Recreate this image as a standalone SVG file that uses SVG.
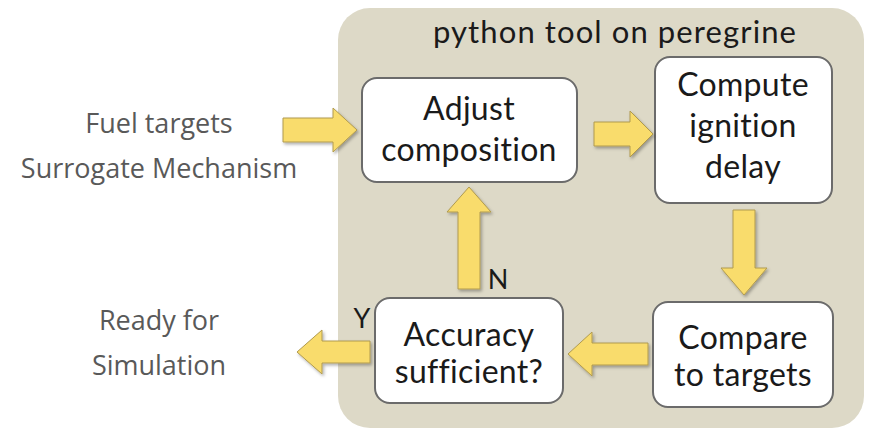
<svg xmlns="http://www.w3.org/2000/svg" width="893" height="428" viewBox="0 0 893 428">
<defs>
<filter id="sh" x="-20%" y="-20%" width="150%" height="150%">
<feDropShadow dx="1.5" dy="2" stdDeviation="1.5" flood-color="#000" flood-opacity="0.3"/>
</filter>
<style>
text{font-variant-ligatures:none}
.box{fill:#fff;stroke:#6b6b6b;stroke-width:2}
.arr{fill:#f9dc6c;stroke:#b09a4e;stroke-width:1;filter:url(#sh)}
.nt{font-family:Lato,"Open Sans",sans-serif;font-size:32px;letter-spacing:0.3px;fill:#1a1a1a;text-anchor:middle}
.lt{font-family:"Open Sans","Liberation Sans",sans-serif;font-size:27px;fill:#595959;text-anchor:middle}
.yn{font-family:Lato,"Open Sans",sans-serif;font-size:27px;fill:#1a1a1a;text-anchor:middle}
</style>
</defs>
<rect x="338" y="8" width="526" height="420" rx="32" fill="#ddd9c7"/>
<text x="615" y="43" font-family="Lato,'Open Sans',sans-serif" font-size="31" letter-spacing="1.1" fill="#1a1a1a" text-anchor="middle">python tool on peregrine</text>
<g id="label-in">
<text class="lt" x="159" y="133">Fuel targets</text>
<text class="lt" x="159" y="178">Surrogate Mechanism</text>
</g>
<g id="label-out">
<text class="lt" x="159" y="330">Ready for</text>
<text class="lt" x="159" y="375">Simulation</text>
</g>
<g id="adjust">
<rect class="box" x="362" y="78" width="215" height="104" rx="15"/>
<text class="nt" x="469" y="120">Adjust</text>
<text class="nt" x="469" y="161">composition</text>
</g>
<g id="compute">
<rect class="box" x="655" y="57" width="177" height="146" rx="15"/>
<text class="nt" x="743" y="96">Compute</text>
<text class="nt" x="743" y="137">ignition</text>
<text class="nt" x="743" y="178">delay</text>
</g>
<g id="compare">
<rect class="box" x="653" y="302" width="180" height="105" rx="15"/>
<text class="nt" x="743" y="349">Compare</text>
<text class="nt" x="743" y="386">to targets</text>
</g>
<g id="accuracy">
<rect class="box" x="375" y="298" width="188" height="105" rx="15"/>
<text class="nt" x="469" y="346">Accuracy</text>
<text class="nt" x="469" y="383">sufficient?</text>
</g>
<g id="connectors">
<path class="arr" d="M283,118 H333 V108 L357,130 L333,152 V142 H283 Z"/>
<path class="arr" d="M594,122 H630 V111 L653,134 L630,157 V146 H594 Z"/>
<path class="arr" d="M733,210 H755 V268 H767 L744,295 L721,268 H733 Z"/>
<path class="arr" d="M458,289 V212 H447 L469,187 L491,212 H480 V289 Z"/>
<path class="arr" d="M648,343 H592 V332 L568,354 L592,376 V365 H648 Z"/>
<path class="arr" d="M370,341 H322 V330 L297,352 L322,374 V363 H370 Z"/>
<text class="yn" x="498" y="289">N</text>
<text class="yn" x="362" y="328">Y</text>
</g>
</svg>
